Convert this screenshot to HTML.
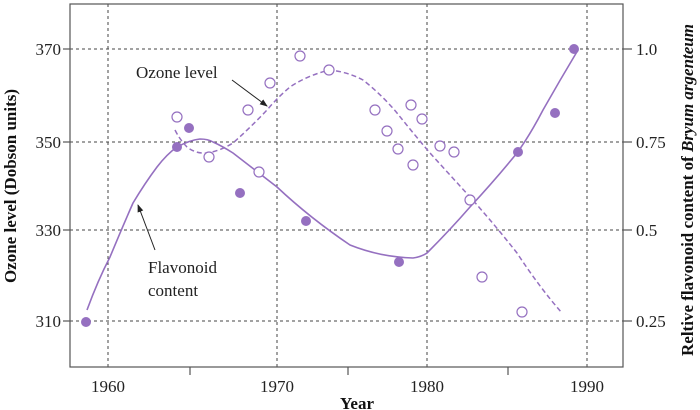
<!DOCTYPE html>
<html><head><style>body{margin:0;background:#fff}svg{display:block}</style></head><body>
<svg width="700" height="410" viewBox="0 0 700 410" font-family="Liberation Serif, serif" font-size="17">
<defs><marker id="a" markerWidth="8" markerHeight="8" refX="7" refY="4" orient="auto" markerUnits="userSpaceOnUse"><path d="M0,1 L8,4 L0,7 z" fill="#222"/></marker></defs>
<g stroke="#444" stroke-width="1" stroke-dasharray="3,3" fill="none">
<line x1="108" y1="4" x2="108" y2="367"/><line x1="277" y1="4" x2="277" y2="367"/><line x1="427" y1="4" x2="427" y2="367"/><line x1="587" y1="4" x2="587" y2="367"/>
<line x1="70" y1="49" x2="623" y2="49"/><line x1="70" y1="142" x2="623" y2="142"/><line x1="70" y1="230" x2="623" y2="230"/><line x1="70" y1="321" x2="623" y2="321"/>
</g>
<rect x="70" y="4" width="553" height="363" fill="none" stroke="#555" stroke-width="1.2"/>
<g stroke="#555" stroke-width="1.2">
<line x1="63" y1="49" x2="70" y2="49"/><line x1="63" y1="142" x2="70" y2="142"/><line x1="63" y1="230" x2="70" y2="230"/><line x1="63" y1="321" x2="70" y2="321"/>
<line x1="623" y1="49" x2="632" y2="49"/><line x1="623" y1="142" x2="632" y2="142"/><line x1="623" y1="230" x2="632" y2="230"/><line x1="623" y1="321" x2="632" y2="321"/>
<line x1="190" y1="367" x2="190" y2="375"/><line x1="348" y1="367" x2="348" y2="375"/><line x1="508" y1="367" x2="508" y2="375"/>
</g>
<g fill="#222" text-anchor="end"><text x="61" y="55">370</text><text x="61" y="148">350</text><text x="61" y="236">330</text><text x="61" y="327">310</text></g>
<g fill="#222"><text x="636" y="55">1.0</text><text x="636" y="148">0.75</text><text x="636" y="236">0.5</text><text x="636" y="327">0.25</text></g>
<g fill="#222" text-anchor="middle"><text x="108" y="392">1960</text><text x="277" y="392">1970</text><text x="427" y="392">1980</text><text x="587" y="392">1990</text></g>
<text x="357" y="409" text-anchor="middle" font-weight="bold" fill="#111">Year</text>
<text transform="translate(16,186) rotate(-90)" text-anchor="middle" font-weight="bold" fill="#111">Ozone level (Dobson units)</text>
<text transform="translate(693,190) rotate(-90)" text-anchor="middle" font-weight="bold" fill="#111">Reltive flavonoid content of <tspan font-style="italic">Bryum argenteum</tspan></text>
<path d="M87,310 Q98,280 110,257 Q122,228 133,203 Q145,183 157,167 Q167,154 177,147 Q190,140 200,139 Q208,139 213,142 Q222,146 233,153 Q255,170 277,187 Q310,218 350,245 Q380,257 413,258 Q421,257 427,253 Q450,230 470,207 Q495,180 517,153 Q530,135 543,110 Q560,80 578,50" fill="none" stroke="#9570c0" stroke-width="1.6"/>
<path d="M175,130 Q180,140 187,147 Q196,154 207,153 Q220,151 233,143 Q250,128 267,110 Q278,97 290,87 Q308,75 330,70 Q348,72 363,80 Q382,95 397,113 Q413,133 430,153 Q450,175 470,197 Q495,225 517,253 Q540,288 562,313" fill="none" stroke="#9570c0" stroke-width="1.5" stroke-dasharray="5,3"/>
<g fill="#9570c0"><circle cx="86" cy="322" r="5"/><circle cx="177" cy="147" r="5"/><circle cx="189" cy="128" r="5"/><circle cx="240" cy="193" r="5"/><circle cx="306" cy="221" r="5"/><circle cx="399" cy="262" r="5"/><circle cx="518" cy="152" r="5"/><circle cx="555" cy="113" r="5"/><circle cx="574" cy="49" r="5"/></g>
<g fill="#fff" stroke="#9570c0" stroke-width="1.2"><circle cx="177" cy="117" r="5"/><circle cx="209" cy="157" r="5"/><circle cx="259" cy="172" r="5"/><circle cx="248" cy="110" r="5"/><circle cx="270" cy="83" r="5"/><circle cx="300" cy="56" r="5"/><circle cx="329" cy="70" r="5"/><circle cx="375" cy="110" r="5"/><circle cx="411" cy="105" r="5"/><circle cx="422" cy="119" r="5"/><circle cx="387" cy="131" r="5"/><circle cx="398" cy="149" r="5"/><circle cx="440" cy="146" r="5"/><circle cx="454" cy="152" r="5"/><circle cx="413" cy="165" r="5"/><circle cx="470" cy="200" r="5"/><circle cx="482" cy="277" r="5"/><circle cx="522" cy="312" r="5"/></g>
<text x="136" y="78" fill="#222">Ozone level</text>
<line x1="232" y1="80" x2="267" y2="106" stroke="#222" stroke-width="1" marker-end="url(#a)"/>
<text x="148" y="273" fill="#222">Flavonoid</text><text x="148" y="296" fill="#222">content</text>
<line x1="155" y1="250" x2="138" y2="205" stroke="#222" stroke-width="1" marker-end="url(#a)"/>
</svg>
</body></html>
